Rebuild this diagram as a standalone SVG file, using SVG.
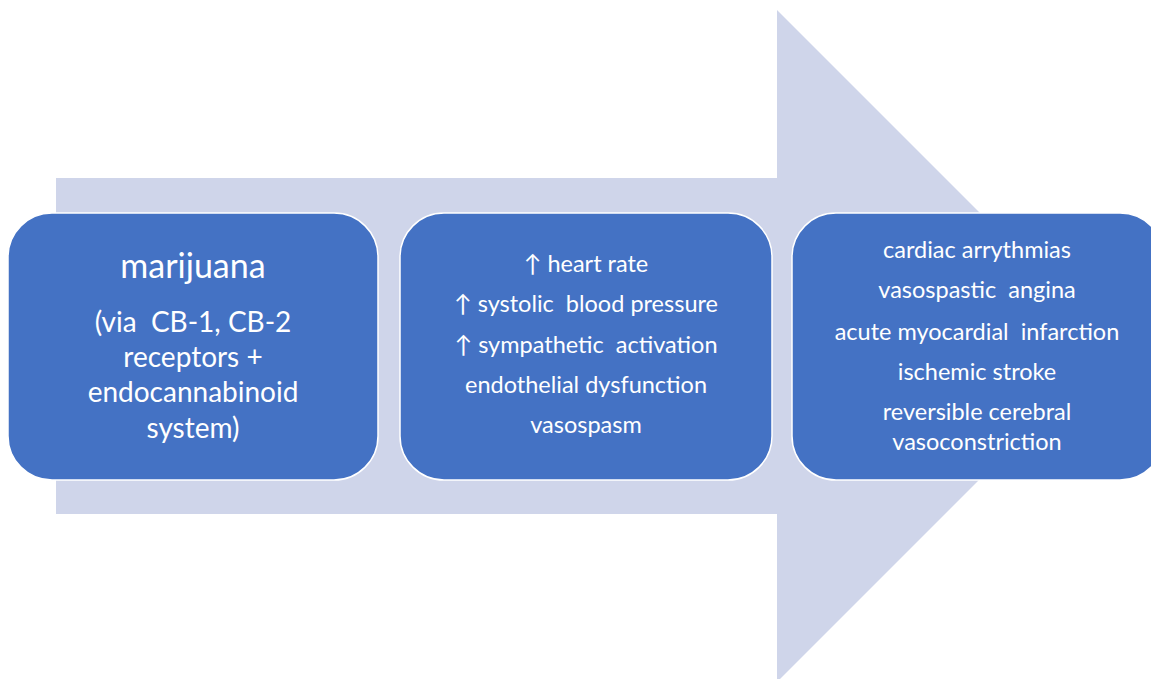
<svg xmlns="http://www.w3.org/2000/svg" width="1151" height="679" viewBox="0 0 1151 679">
<style>
.box{fill:#4472C4;stroke:#ffffff;stroke-width:1.5}
.t{font-family:Lato,"Open Sans","Liberation Sans",sans-serif;fill:#ffffff;text-anchor:middle}
.s20{font-size:23.5px}
.s24{font-size:28px}
.s30{font-size:34px}
</style>
<rect width="1151" height="679" fill="#ffffff"/>
<g id="connectors">
<polygon points="56,178 777,178 777,10 1113,346 777,682 777,514 56,514" fill="#CFD5EA"/>
</g>
<g id="node1">
<rect class="box" x="8" y="213" width="370" height="267" rx="44"/>
<text class="t s30" x="193" y="278">marijuana</text>
<text class="t s24" x="193" y="332" xml:space="preserve">(via  CB-1, CB-2</text>
<text class="t s24" x="193" y="367">receptors +</text>
<text class="t s24" x="193" y="402">endocannabinoid</text>
<text class="t s24" x="193" y="438">system)</text>
</g>
<g id="node2">
<rect class="box" x="400" y="213" width="372" height="267" rx="44"/>
<text class="t s20" x="586" y="272">↑ heart rate</text>
<text class="t s20" x="586" y="312" xml:space="preserve">↑ systolic  blood pressure</text>
<text class="t s20" x="586" y="353" xml:space="preserve">↑ sympathetic  activation</text>
<text class="t s20" x="586" y="393">endothelial dysfunction</text>
<text class="t s20" x="586" y="433">vasospasm</text>
</g>
<g id="node3">
<rect class="box" x="792" y="213" width="372" height="267" rx="44"/>
<text class="t s20" x="977" y="258">cardiac arrythmias</text>
<text class="t s20" x="977" y="298" xml:space="preserve">vasospastic  angina</text>
<text class="t s20" x="977" y="340" xml:space="preserve">acute myocardial  infarction</text>
<text class="t s20" x="977" y="380">ischemic stroke</text>
<text class="t s20" x="977" y="420">reversible cerebral</text>
<text class="t s20" x="977" y="450">vasoconstriction</text>
</g>
</svg>
